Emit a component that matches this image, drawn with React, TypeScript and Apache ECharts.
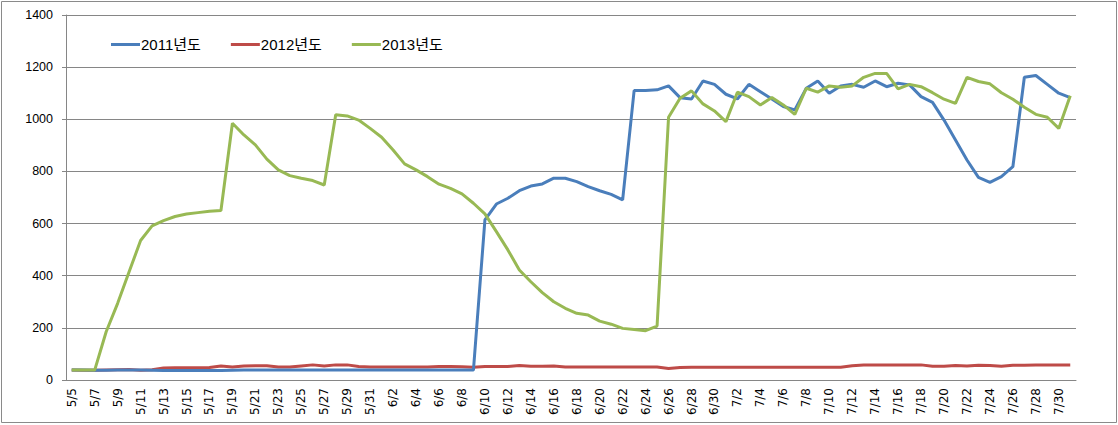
import React, { useEffect, useRef } from "react";
import * as echarts from "echarts";

function buildDates(): string[] {
  const out: string[] = [];
  for (let d = 5; d <= 31; d++) out.push(`5/${d}`);
  for (let d = 1; d <= 30; d++) out.push(`6/${d}`);
  for (let d = 1; d <= 31; d++) out.push(`7/${d}`);
  return out;
}
const categories = buildDates();

const yTicks = [0, 200, 400, 600, 800, 1000, 1200, 1400];

const series2011 = [
  38, 38, 37, 37, 38, 38, 38, 37, 36, 36, 36, 36, 36, 36,
  37, 38, 38, 38, 38, 38, 38, 38, 38, 38, 38, 38, 38, 38, 38, 38, 38, 38, 38, 38, 38, 38,
  614, 675, 697, 726, 744, 752, 774, 774, 761, 742, 726, 712, 691,
  1110, 1110, 1113, 1128, 1083, 1078, 1147, 1134, 1096, 1078, 1134, 1106, 1078, 1049, 1036,
  1119, 1147, 1100, 1128, 1134, 1123, 1147, 1125, 1138, 1132, 1087, 1065, 997, 921, 844,
  777, 758, 780, 818, 1161, 1168, 1134, 1100, 1083,
];

const series2012 = [
  38, 37, 37, 38, 39, 40, 37, 39, 46, 47, 47, 47, 48, 54,
  50, 54, 55, 55, 50, 50, 54, 58, 54, 58, 58,
  52, 50, 50, 50, 50, 50, 50, 52, 52, 51, 49,
  52, 52, 52, 56, 53, 53, 54, 50, 50, 50, 50, 50, 50,
  50, 50, 50, 44, 48, 49, 49, 49, 49, 49, 49, 49, 49, 49, 49, 49, 49, 49, 49, 55,
  58, 58, 58, 58, 58, 58, 53, 53, 56, 54, 57, 56, 53, 57, 57, 58, 58, 58, 58,
];

const series2013 = [
  38, 38, 38, 185, 294, 415, 535, 591, 611, 627, 637, 642, 647, 650,
  985, 940, 902, 847, 806, 784, 774, 765, 748,
  1017, 1013, 997, 965, 931, 882, 829, 806, 780, 751, 735, 714, 678,
  637, 569, 499, 422, 377, 335, 300, 275, 256, 249, 226, 214, 198, 194, 189, 207,
  1008, 1081, 1109, 1059, 1032, 991, 1104, 1087, 1055, 1084, 1055, 1019, 1119, 1104, 1128, 1123, 1128,
  1161, 1176, 1176, 1117, 1134, 1125, 1102, 1077, 1061, 1161, 1145, 1136, 1102, 1077, 1046, 1019, 1008, 965, 1090,
];

const seriesNames = ["2011년도", "2012년도", "2013년도"];
const colors = ["#4A7EBB", "#BE4B48", "#98B954"];

export default function App() {
  const ref = useRef<HTMLDivElement>(null);
  useEffect(() => {
    document.body.style.margin = "0";
    if (!ref.current) return;
    const chart = echarts.init(ref.current, null, { renderer: "svg" });
    const font = "'Liberation Sans', Arial, 'Noto Sans CJK KR', sans-serif";
    const xFont = "'DejaVu Sans', 'Liberation Sans', sans-serif";
    const data = [series2011, series2012, series2013];
    chart.setOption({
      animation: false,
      backgroundColor: "#ffffff",
      color: colors,
      textStyle: { fontFamily: font },
      graphic: [
        {
          type: "rect",
          shape: { x: 1.5, y: 1.5, width: 1115, height: 421 },
          style: { fill: "none", stroke: "#8a8a8a", lineWidth: 1 },
          silent: true,
        },
      ],
      legend: {
        left: 106,
        top: 32,
        icon: "rect",
        itemWidth: 29,
        itemHeight: 3,
        itemGap: 30,
        textStyle: { fontSize: 15, color: "#000", fontFamily: font, padding: [0, 0, 0, -4] },
        data: seriesNames,
      },
      grid: { left: 66, right: 42, top: 15, bottom: 45 },
      xAxis: {
        type: "category",
        data: categories,
        boundaryGap: true,
        axisLine: { lineStyle: { color: "#868686", width: 1 } },
        axisTick: { interval: 1, length: 5, lineStyle: { color: "#868686" } },
        axisLabel: { interval: 1, rotate: 90, fontSize: 12, color: "#000", margin: 8, fontFamily: xFont },
        splitLine: { show: false },
      },
      yAxis: {
        type: "value",
        min: yTicks[0],
        max: yTicks[yTicks.length - 1],
        interval: 200,
        axisLine: { show: true, lineStyle: { color: "#868686", width: 1 } },
        axisTick: { show: true, length: 4, lineStyle: { color: "#868686" } },
        axisLabel: {
          fontSize: 12.5,
          color: "#000",
          margin: 13,
          fontFamily: font,
          formatter: (v: number) => String(v),
        },
        splitLine: { show: true, lineStyle: { color: "#868686", width: 1 } },
      },
      series: seriesNames.map((name, i) => ({
        name,
        type: "line",
        data: data[i],
        symbol: "none",
        lineStyle: { width: 3, color: colors[i] },
        itemStyle: { color: colors[i] },
        z: i === 1 ? 2 : 3,
      })),
    });
    return () => chart.dispose();
  }, []);
  return <div ref={ref} style={{ width: 1118, height: 425 }} />;
}
